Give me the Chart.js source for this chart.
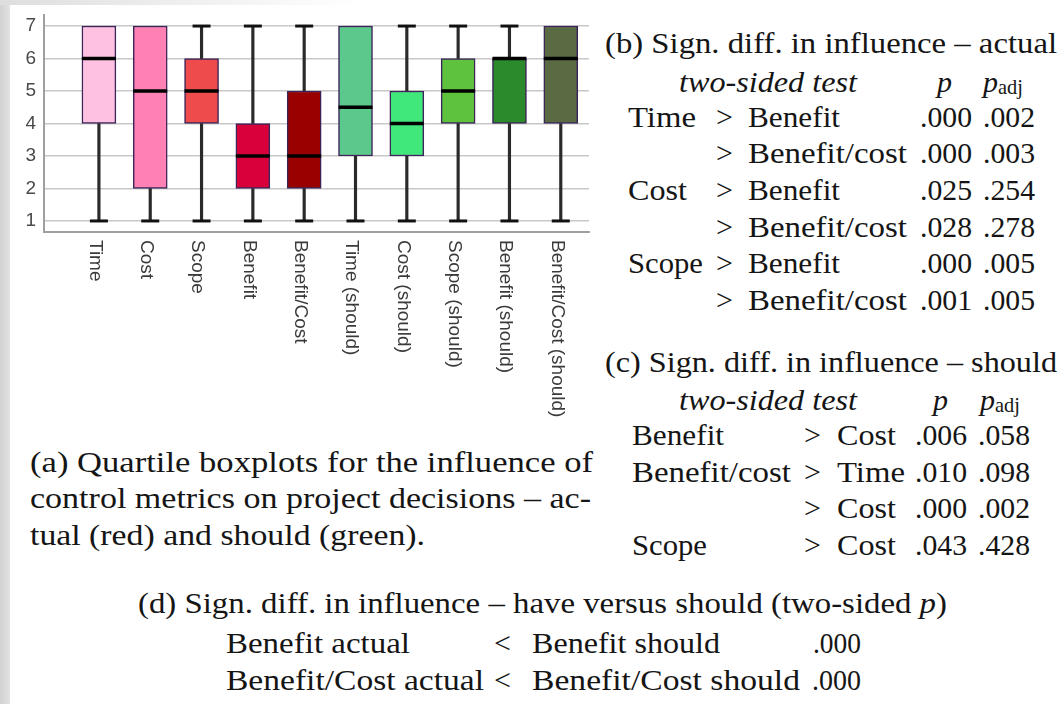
<!DOCTYPE html>
<html>
<head>
<meta charset="utf-8">
<script src="https://cdn.jsdelivr.net/npm/chart.js@4/dist/chart.umd.min.js"></script>
<style>
  html, body { margin: 0; padding: 0; background: #fff; }
  #page { position: relative; width: 1064px; height: 704px; overflow: hidden; background: #fff; }
  .edge-left { position: absolute; left: 0; top: 0; width: 10px; height: 704px;
               background: linear-gradient(to right, #d2d2d2, #e2e2e2); }
  .edge-top { position: absolute; left: 0; top: 0; width: 360px; height: 5px;
              background: linear-gradient(to right, #dedede, #ffffff); }
  #chartBox { position: absolute; left: 0; top: 0; width: 600px; height: 420px; }
  .t { position: absolute; font-family: "Liberation Serif", "DejaVu Serif", serif; font-size: 30px;
       line-height: 30px; color: #151515; white-space: nowrap; transform-origin: 0 50%; }
  .cap { font-size: 29px; }
  .d { font-size: 30px; }
  .it { font-style: italic; }
  .sub { font-size: 0.68em; position: relative; top: 0.12em; font-style: normal; }
</style>
</head>
<body>
<div id="page">
  <div class="edge-left"></div>
  <div class="edge-top"></div>
  <div id="chartBox"><canvas id="boxplot"></canvas></div>

  <!-- (a) caption -->
  <div class="t cap" style="left:30px;top:447px" data-w="563">(a) Quartile boxplots for the influence of</div>
  <div class="t cap" style="left:30px;top:483px" data-w="561">control metrics on project decisions – ac-</div>
  <div class="t cap" style="left:30px;top:520px" data-w="395">tual (red) and should (green).</div>

  <!-- (b) actual -->
  <div class="t" style="left:605px;top:28px" data-w="452">(b) Sign. diff. in influence – actual</div>
  <div class="t it" style="left:679px;top:67px" data-w="178">two-sided test</div>
  <div class="t it" style="left:937px;top:67px">p</div>
  <div class="t" style="left:983px;top:67px"><i>p</i><span class="sub">adj</span></div>

  <div class="t" style="left:628px;top:102px" data-w="68">Time</div>
  <div class="t" style="left:716px;top:102px">&gt;</div>
  <div class="t" style="left:748px;top:102px" data-w="92">Benefit</div>
  <div class="t" style="left:920px;top:102px" data-w="52">.000</div>
  <div class="t" style="left:983px;top:102px" data-w="52">.002</div>

  <div class="t" style="left:716px;top:138px">&gt;</div>
  <div class="t" style="left:748px;top:138px" data-w="159">Benefit/cost</div>
  <div class="t" style="left:920px;top:138px" data-w="52">.000</div>
  <div class="t" style="left:983px;top:138px" data-w="52">.003</div>

  <div class="t" style="left:628px;top:175px" data-w="59">Cost</div>
  <div class="t" style="left:716px;top:175px">&gt;</div>
  <div class="t" style="left:748px;top:175px" data-w="92">Benefit</div>
  <div class="t" style="left:920px;top:175px" data-w="52">.025</div>
  <div class="t" style="left:983px;top:175px" data-w="52">.254</div>

  <div class="t" style="left:716px;top:212px">&gt;</div>
  <div class="t" style="left:748px;top:212px" data-w="159">Benefit/cost</div>
  <div class="t" style="left:920px;top:212px" data-w="52">.028</div>
  <div class="t" style="left:983px;top:212px" data-w="52">.278</div>

  <div class="t" style="left:628px;top:248px" data-w="75">Scope</div>
  <div class="t" style="left:716px;top:248px">&gt;</div>
  <div class="t" style="left:748px;top:248px" data-w="92">Benefit</div>
  <div class="t" style="left:920px;top:248px" data-w="52">.000</div>
  <div class="t" style="left:983px;top:248px" data-w="52">.005</div>

  <div class="t" style="left:716px;top:285px">&gt;</div>
  <div class="t" style="left:748px;top:285px" data-w="159">Benefit/cost</div>
  <div class="t" style="left:920px;top:285px" data-w="52">.001</div>
  <div class="t" style="left:983px;top:285px" data-w="52">.005</div>

  <!-- (c) should -->
  <div class="t" style="left:605px;top:347px" data-w="452">(c) Sign. diff. in influence – should</div>
  <div class="t it" style="left:679px;top:385px" data-w="178">two-sided test</div>
  <div class="t it" style="left:933px;top:385px">p</div>
  <div class="t" style="left:980px;top:385px"><i>p</i><span class="sub">adj</span></div>

  <div class="t" style="left:632px;top:420px" data-w="92">Benefit</div>
  <div class="t" style="left:804px;top:420px">&gt;</div>
  <div class="t" style="left:837px;top:420px" data-w="59">Cost</div>
  <div class="t" style="left:915px;top:420px" data-w="52">.006</div>
  <div class="t" style="left:978px;top:420px" data-w="52">.058</div>

  <div class="t" style="left:632px;top:457px" data-w="159">Benefit/cost</div>
  <div class="t" style="left:804px;top:457px">&gt;</div>
  <div class="t" style="left:837px;top:457px" data-w="68">Time</div>
  <div class="t" style="left:915px;top:457px" data-w="52">.010</div>
  <div class="t" style="left:978px;top:457px" data-w="52">.098</div>

  <div class="t" style="left:804px;top:493px">&gt;</div>
  <div class="t" style="left:837px;top:493px" data-w="59">Cost</div>
  <div class="t" style="left:915px;top:493px" data-w="52">.000</div>
  <div class="t" style="left:978px;top:493px" data-w="52">.002</div>

  <div class="t" style="left:632px;top:530px" data-w="75">Scope</div>
  <div class="t" style="left:804px;top:530px">&gt;</div>
  <div class="t" style="left:837px;top:530px" data-w="59">Cost</div>
  <div class="t" style="left:915px;top:530px" data-w="52">.043</div>
  <div class="t" style="left:978px;top:530px" data-w="52">.428</div>

  <!-- (d) have versus should -->
  <div class="t d" style="left:138px;top:588px" data-w="809">(d) Sign. diff. in influence – have versus should (two-sided <i>p</i>)</div>
  <div class="t d" style="left:226px;top:628px" data-w="184">Benefit actual</div>
  <div class="t d" style="left:494px;top:628px">&lt;</div>
  <div class="t d" style="left:532px;top:628px" data-w="188">Benefit should</div>
  <div class="t d" style="left:813px;top:628px" data-w="48">.000</div>
  <div class="t d" style="left:226px;top:665px" data-w="258">Benefit/Cost actual</div>
  <div class="t d" style="left:494px;top:665px">&lt;</div>
  <div class="t d" style="left:532px;top:665px" data-w="268">Benefit/Cost should</div>
  <div class="t d" style="left:812px;top:665px" data-w="49">.000</div>
</div>

<script>
// Five-number summaries per control metric (influence rated 1–7)
const categories = ['Time', 'Cost', 'Scope', 'Benefit', 'Benefit/Cost',
  'Time (should)', 'Cost (should)', 'Scope (should)', 'Benefit (should)', 'Benefit/Cost (should)'];
const minimum       = [1, 1, 1, 1, 1, 1,   1, 1, 1, 1];
const lowerQuartile = [4, 2, 4, 2, 2, 3,   3, 4, 4, 4];
const median        = [6, 5, 5, 3, 3, 4.5, 4, 5, 6, 6];
const upperQuartile = [7, 7, 6, 4, 5, 7,   5, 6, 6, 7];
const maximum       = [7, 7, 7, 7, 7, 7,   7, 7, 7, 7];
const yTickValues   = [1, 2, 3, 4, 5, 6, 7];

// Reds for "actual", greens for "should"
const boxColors = ['#ffc1e1', '#ff80b3', '#ee4c4c', '#d7003a', '#990000',
  '#5bc98b', '#40e87b', '#5fc23d', '#2b8a2b', '#5a6b43'];

// fit wide serif lines to their column widths
document.querySelectorAll('.t[data-w]').forEach(el => {
  const target = parseFloat(el.dataset.w);
  const natural = el.getBoundingClientRect().width;
  if (natural > 0) el.style.transform = 'scaleX(' + (target / natural).toFixed(4) + ')';
});

const positions = categories.map((_, i) => i + 1);
const pick = (fn) => positions.map((x, i) => fn(x, i)).filter(Boolean);

const lowerWhiskers = pick((x, i) => minimum[i] < lowerQuartile[i] ? { x, y: [minimum[i], lowerQuartile[i]] } : null);
const upperWhiskers = pick((x, i) => maximum[i] > upperQuartile[i] ? { x, y: [upperQuartile[i], maximum[i]] } : null);
const boxes = positions.map((x, i) => ({ x, y: [lowerQuartile[i], upperQuartile[i]] }));
const medians = positions.map((x, i) => ({ x, y: median[i] }));
const lowCaps = pick((x, i) => minimum[i] < lowerQuartile[i] ? { x, y: minimum[i] } : null);
const highCaps = pick((x, i) => maximum[i] > upperQuartile[i] ? { x, y: maximum[i] } : null);

// category names run downward beneath each box
const verticalLabels = {
  id: 'verticalLabels',
  afterDraw(chart) {
    const { ctx, scales: { x } } = chart;
    ctx.save();
    ctx.font = '19px "Liberation Sans", Arial, sans-serif';
    ctx.fillStyle = '#3a3a3a';
    ctx.textAlign = 'left';
    ctx.textBaseline = 'middle';
    categories.forEach((label, i) => {
      ctx.save();
      ctx.translate(x.getPixelForValue(positions[i]) - 4, x.top + 8);
      ctx.rotate(Math.PI / 2);
      ctx.fillText(label, 0, 0);
      ctx.restore();
    });
    ctx.restore();
  }
};

const whiskerStyle = { type: 'bar', backgroundColor: '#2a2a2a', borderWidth: 0, barThickness: 2.5, grouped: false, order: 3 };
const capStyle = { type: 'line', showLine: false, pointStyle: 'line', pointRadius: 9, pointHoverRadius: 9,
                   pointBorderWidth: 3, pointBorderColor: '#111', order: 0 };

new Chart(document.getElementById('boxplot'), {
  type: 'bar',
  data: {
    datasets: [
      { ...whiskerStyle, label: 'lower whisker', data: lowerWhiskers },
      { ...whiskerStyle, label: 'upper whisker', data: upperWhiskers },
      { type: 'bar', label: 'interquartile range', data: boxes, backgroundColor: boxColors,
        borderColor: '#3a2458', borderWidth: 1.5, borderSkipped: false, barThickness: 34, grouped: false, order: 1 },
      { type: 'line', label: 'median', data: medians, showLine: false, pointStyle: 'line',
        pointRadius: 17, pointHoverRadius: 17, pointBorderWidth: 3.5, pointBorderColor: '#000', order: 0 },
      { ...capStyle, label: 'minimum', data: lowCaps },
      { ...capStyle, label: 'maximum', data: highCaps }
    ]
  },
  options: {
    responsive: true,
    maintainAspectRatio: false,
    devicePixelRatio: 1,
    animation: false,
    events: [],
    layout: { autoPadding: false, padding: { left: 0, top: 15, right: 11, bottom: 0 } },
    plugins: { legend: { display: false }, tooltip: { enabled: false } },
    scales: {
      x: {
        type: 'linear',
        min: -0.07,
        max: 10.55,
        offset: false,
        grid: { display: false, offset: false, drawTicks: false },
        border: { display: true, color: '#a0a0a0', width: 2 },
        ticks: { display: false },
        afterBuildTicks: (s) => { s.ticks = positions.map(v => ({ value: v })); },
        afterFit: (s) => { s.height = 188; s.paddingLeft = 0; s.paddingRight = 0; }
      },
      y: {
        min: 0.66,
        max: 7.34,
        grid: { color: '#c8c8c8', lineWidth: 1.5, drawTicks: false },
        border: { display: true, color: '#a0a0a0', width: 2 },
        ticks: { padding: 8, color: '#4a4a4a', font: { family: '"Liberation Sans", Arial, sans-serif', size: 19 } },
        afterBuildTicks: (s) => { s.ticks = yTickValues.map(v => ({ value: v })); },
        afterFit: (s) => { s.width = 44; s.paddingTop = 0; s.paddingBottom = 0; }
      }
    }
  },
  plugins: [verticalLabels]
});
</script>
</body>
</html>
